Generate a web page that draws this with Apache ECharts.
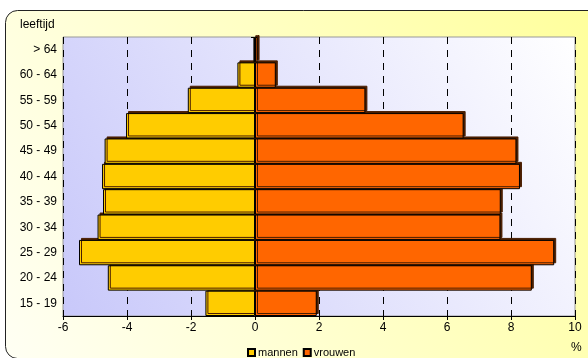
<!DOCTYPE html>
<html><head><meta charset="utf-8">
<script src="https://cdn.jsdelivr.net/npm/echarts@6/dist/echarts.min.js"></script>
<style>html,body{margin:0;padding:0;background:#fff}#c{width:588px;height:358px}</style>
</head><body><div id="c"></div>
<script>
const categories = ['15 - 19','20 - 24','25 - 29','30 - 34','35 - 39','40 - 44','45 - 49','50 - 54','55 - 59','60 - 64','> 64'];
const mannen = [-1.55,-4.6,-5.5,-4.92,-4.75,-4.78,-4.7,-4.03,-2.1,-0.55,-0.05];
const vrouwen = [1.93,8.65,9.35,7.67,7.68,8.28,8.17,6.52,3.45,0.65,0.08];
const seriesNames = ['mannen','vrouwen'];
const xTicks = {min:-6, max:10, interval:2};

const chart = echarts.init(document.getElementById('c'), null, {renderer:'canvas'});
const font = 'Liberation Sans, Arial, sans-serif';
chart.setOption({
  animation:false,
  graphic:[
    {type:'rect', z:-10, shape:{x:5.5,y:10.5,width:640,height:348,r:12},
     style:{fill:new echarts.graphic.LinearGradient(0,1,1,0,[{offset:0,color:'#fffff4'},{offset:1,color:'#ffff96'}]),stroke:'#222',lineWidth:1}},
    {type:'rect', z:-9, shape:{x:63,y:37,width:512,height:279},
     style:{fill:new echarts.graphic.LinearGradient(0,1,1,0,[{offset:0,color:'#c8c8fa'},{offset:1,color:'#ffffff'}])}},
    {type:'text', left:20, top:19, style:{text:'leeftijd', font:'12px '+font, fill:'#000'}},
    {type:'text', left:571, top:342, style:{text:'%', font:'12px '+font, fill:'#000'}}
  ],
  grid:{left:63,right:13,top:37,bottom:42,show:true,borderColor:'#999',borderWidth:1,backgroundColor:'transparent'},
  legend:{data:seriesNames, left:242, top:342, itemWidth:7, itemHeight:7, itemGap:5, icon:'rect',
    textStyle:{fontFamily:font,fontSize:11,color:'#000',padding:[0,0,0,-2]}},
  xAxis:{type:'value', min:xTicks.min, max:xTicks.max, interval:xTicks.interval,
    axisLine:{show:true,onZero:false,lineStyle:{color:'#000',width:1}},
    axisTick:{show:true,length:4,lineStyle:{color:'#000'}},
    axisLabel:{fontFamily:font,fontSize:12,color:'#000',margin:6},
    splitLine:{show:true,lineStyle:{color:'#000',type:[7,6],width:1}}},
  yAxis:{type:'category', data:categories,
    axisLine:{show:true,lineStyle:{color:'#000',width:1}},
    axisTick:{show:true,length:4,alignWithLabel:false,lineStyle:{color:'#000'}},
    axisLabel:{fontFamily:font,fontSize:12,color:'#000',margin:6},
    splitLine:{show:false}},
  series:[
    {name:seriesNames[0], type:'bar', stack:'t', data:mannen, barCategoryGap:0,
     itemStyle:{color:'#ffcc00',borderColor:'#000',borderWidth:1,shadowColor:'#4a1e00',shadowOffsetX:2,shadowOffsetY:-2,shadowBlur:0}},
    {name:seriesNames[1], type:'bar', stack:'t', data:vrouwen, barCategoryGap:0,
     itemStyle:{color:'#ff6600',borderColor:'#000',borderWidth:1,shadowColor:'#4a1e00',shadowOffsetX:2,shadowOffsetY:-2,shadowBlur:0}}
  ]
});
</script></body></html>
